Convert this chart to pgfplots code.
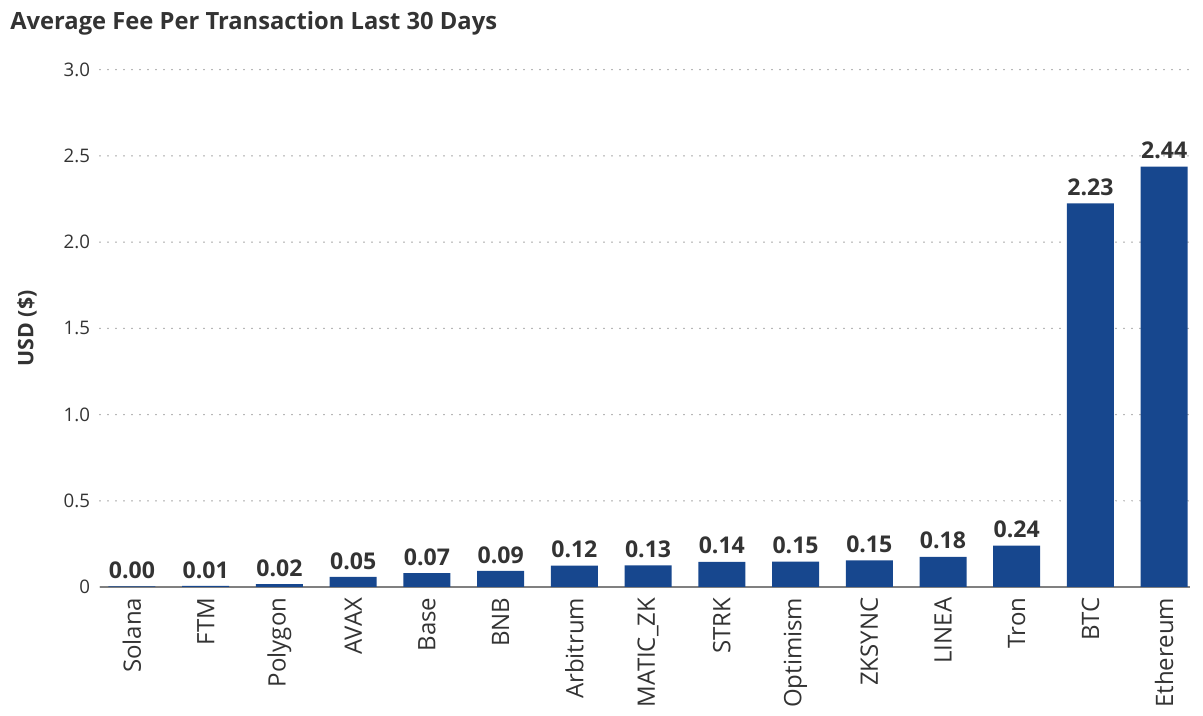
\documentclass[border=0pt]{standalone}
\usepackage{pgfplots}
\pgfplotsset{compat=1.18}
\usepackage{pgfplotstable}
\usepackage{fontspec}
\setmainfont{Open Sans}

\definecolor{barblue}{HTML}{17478E}
\definecolor{txt}{HTML}{333333}
\definecolor{gridc}{HTML}{808080}

% average fee per transaction, USD
\pgfplotstableread{
x y     lab
0 0.004 0.00
1 0.006 0.01
2 0.017 0.02
3 0.058 0.05
4 0.081 0.07
5 0.093 0.09
6 0.124 0.12
7 0.125 0.13
8 0.146 0.14
9 0.147 0.15
10 0.155 0.15
11 0.175 0.18
12 0.240 0.24
13 2.225 2.23
14 2.437 2.44
}\feedata

\begin{document}
\begin{tikzpicture}
\path[use as bounding box] (-75pt,-96.75pt) rectangle (827.25pt,440.25pt);
\begin{axis}[
    scale only axis,
    width=817.5pt, height=388pt,
    xmin=-0.434, xmax=14.35,
    ymin=0, ymax=3,
    ybar, bar width=35.25pt,
    separate axis lines,
    axis x line=bottom, axis y line=left,
    x axis line style={-, draw=gray, line width=0.9pt},
    y axis line style={draw=none},
    major tick length=0pt,
    xtick={0,...,14},
    xticklabels={Solana,FTM,Polygon,AVAX,Base,BNB,Arbitrum,MATIC\_ZK,STRK,Optimism,ZKSYNC,LINEA,Tron,BTC,Ethereum},
    xticklabel shift=4.5pt,
    x tick label style={rotate=90, anchor=east, font=\fontsize{18}{20}\selectfont, text=txt},
    ytick={0,0.5,1,1.5,2,2.5,3},
    yticklabels={0,0.5,1.0,1.5,2.0,2.5,3.0},
    yticklabel shift=4pt,
    y tick label style={font=\fontsize{14}{16}\selectfont, text=txt},
    ymajorgrids,
    major grid style={draw=gridc, line cap=round, line width=1.1pt, dash pattern=on 0pt off 6pt},
    ylabel={\bfseries USD (\$)},
    ylabel style={at={(axis description cs:-0.067,0.5)}, anchor=center, font=\fontsize{16}{18}\selectfont, text=txt},
    nodes near coords,
    point meta=explicit symbolic,
    every node near coord/.append style={font=\bfseries\fontsize{17.3}{19}\selectfont, text=txt, inner sep=2pt, yshift=3.5pt},
]
\addplot[fill=barblue, draw=none] table[x=x, y=y, meta=lab] {\feedata};
\end{axis}
\node[anchor=base west, inner sep=0pt, text=txt, font=\bfseries\fontsize{17.8}{20}\selectfont] at (-67.5pt,418.1pt) {Average Fee Per Transaction Last 30 Days};
\end{tikzpicture}
\end{document}
